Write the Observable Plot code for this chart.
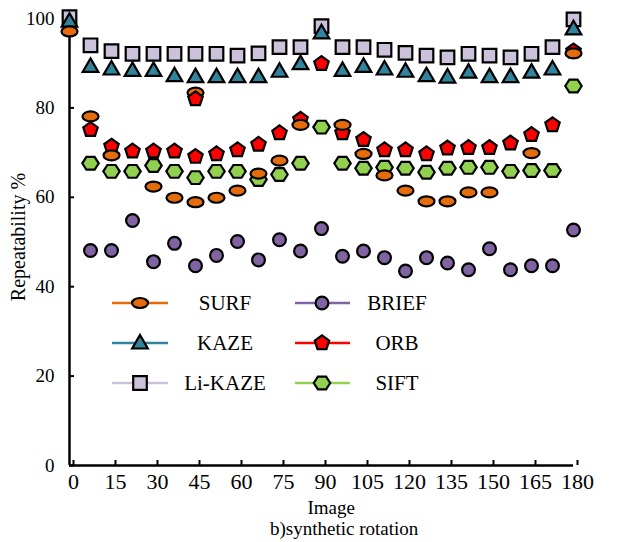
<!DOCTYPE html>
<html><head><meta charset="utf-8">
<script src="https://cdn.jsdelivr.net/npm/d3@7"></script>
<script src="https://cdn.jsdelivr.net/npm/@observablehq/plot@0.6"></script>
<style>
body{margin:0;background:#fff;}
#wrap{position:relative;width:617px;height:542px;font-family:"Liberation Serif","DejaVu Serif",serif;color:#000;}
.lbl{position:absolute;white-space:nowrap;line-height:1;}
</style></head><body><div id="wrap"></div>
<script>
// ---- data ----
const angles = [0, 7.5, 15, 22.5, 30, 37.5, 45, 52.5, 60, 67.5, 75, 82.5, 90, 97.5, 105, 112.5, 120, 127.5, 135, 142.5, 150, 157.5, 165, 172.5, 180];
const liKaze = [100.3, 94.0, 92.7, 92.1, 92.1, 92.1, 92.1, 92.1, 91.7, 92.2, 93.6, 93.6, 98.3, 93.6, 93.6, 93.0, 92.3, 91.7, 91.3, 92.1, 91.7, 91.3, 92.1, 93.6, 99.8];
const kaze   = [99.4, 89.3, 88.7, 88.4, 88.4, 87.2, 87.0, 87.0, 87.0, 87.0, 88.2, 89.9, 96.8, 88.4, 89.3, 88.7, 88.2, 87.2, 86.9, 88.0, 87.0, 87.0, 88.0, 88.7, 97.7];
const brief  = [null, 48.1, 48.1, 54.8, 45.6, 49.7, 44.7, 47.0, 50.1, 46.0, 50.5, 48.0, 53.0, 46.8, 48.0, 46.5, 43.5, 46.5, 45.3, 43.8, 48.5, 43.8, 44.7, 44.7, 52.7];
const sift   = [null, 67.6, 65.8, 65.8, 67.1, 65.8, 64.4, 65.8, 65.8, 64.0, 65.1, 67.6, 75.7, 67.6, 66.5, 66.7, 66.5, 65.6, 66.5, 66.7, 66.7, 65.8, 66.0, 66.0, 84.9];
const orb    = [null, 75.1, 71.4, 70.3, 70.3, 70.3, 69.1, 69.7, 70.6, 71.8, 74.4, 77.4, 89.9, 74.4, 72.9, 70.6, 70.6, 69.7, 71.0, 71.1, 71.1, 72.1, 74.0, 76.2, 92.7];
const surf   = [97.1, 78.1, 69.4, null, 62.4, 59.9, 58.9, 59.9, 61.5, 65.3, 68.2, 76.2, null, 76.2, 69.7, 64.9, 61.5, 59.1, 59.1, 61.1, 61.1, null, 69.9, null, 92.2];
const extraAngles = [45];
const surfExtra = [83.4];
const orbExtra = [82.0];
const xTicks = [0, 15, 30, 45, 60, 75, 90, 105, 120, 135, 150, 165, 180];
const yTicks = [0, 20, 40, 60, 80, 100];
const names = ["Li-KAZE", "KAZE", "BRIEF", "SIFT", "ORB", "SURF"];
const colors = ["#CCC1DA", "#31849B", "#8064A2", "#92D050", "#FF0000", "#E46C0A"];
const legendLeft = ["SURF", "KAZE", "Li-KAZE"];
const legendRight = ["BRIEF", "ORB", "SIFT"];

// ---- marker shapes ----
function polySym(pts) {
  return {draw(ctx) { ctx.moveTo(pts[0][0], pts[0][1]); for (let i = 1; i < pts.length; i++) ctx.lineTo(pts[i][0], pts[i][1]); ctx.closePath(); }};
}
function regular(n, r, start, sy = 1) {
  return d3.range(n).map(k => { const a = start + k * 2 * Math.PI / n; return [r * Math.cos(a), sy * r * Math.sin(a)]; });
}
const squareSym = polySym([[-6.8,-6.8],[6.8,-6.8],[6.8,6.8],[-6.8,6.8]]);
const triSym = polySym([[0,-8],[7.8,5.5],[-7.8,5.5]]);
const pentSym = polySym(regular(5, 7.6, -Math.PI / 2));
const hexSym = polySym(regular(6, 8.2, 0, 0.9));
const circleSym = {draw(ctx) { ctx.moveTo(6.4, 0); ctx.arc(0, 0, 6.4, 0, 2 * Math.PI); ctx.closePath(); }};
const ellipseSym = {draw(ctx) {
  const rx = 8, ry = 5, k = 0.5523;
  ctx.moveTo(rx, 0);
  ctx.bezierCurveTo(rx, ry * k, rx * k, ry, 0, ry);
  ctx.bezierCurveTo(-rx * k, ry, -rx, ry * k, -rx, 0);
  ctx.bezierCurveTo(-rx, -ry * k, -rx * k, -ry, 0, -ry);
  ctx.bezierCurveTo(rx * k, -ry, rx, -ry * k, rx, 0);
  ctx.closePath();
}};
const symbols = {"Li-KAZE": squareSym, "KAZE": triSym, "BRIEF": circleSym, "SIFT": hexSym, "ORB": pentSym, "SURF": ellipseSym};
const valuesBy = {"Li-KAZE": liKaze, "KAZE": kaze, "BRIEF": brief, "SIFT": sift, "ORB": orb, "SURF": surf};
const colorBy = Object.fromEntries(names.map((n, i) => [n, colors[i]]));

const rows = (vals, xs = angles) => xs.map((a, i) => ({angle: a, value: vals[i]}));
const dotMark = (name, data) => Plot.dot(data, {x: "angle", y: "value", r: 1, symbol: symbols[name], fill: colorBy[name], stroke: "black", strokeWidth: 2.2});

const serif = "'Liberation Serif','DejaVu Serif',serif";
const chart = Plot.plot({
  width: 617, height: 542,
  marginLeft: 69, marginRight: 44, marginTop: 18, marginBottom: 77,
  style: {fontFamily: serif, fontSize: "19px", color: "black", background: "white", overflow: "visible"},
  x: {domain: [0, 180]},
  y: {domain: [0, 100]},
  marks: [
    Plot.axisX({ticks: xTicks, tickSize: -5, tickPadding: 13, strokeWidth: 2, fontSize: 22, dx: 4, label: null}),
    Plot.axisY({ticks: yTicks, tickSize: -5, tickPadding: 20, strokeWidth: 2, fontSize: 19, label: null}),
    Plot.ruleX([0], {stroke: "black", strokeWidth: 2.5}),
    Plot.ruleY([0], {stroke: "black", strokeWidth: 2.5}),
    ...names.map(n => dotMark(n, rows(valuesBy[n]))),
    dotMark("SURF", rows(surfExtra, extraAngles)),
    dotMark("ORB", rows(orbExtra, extraAngles))
  ]
});
const wrap = document.getElementById("wrap");
wrap.appendChild(chart);

// ---- legend (inside the plot area) ----
const svg = d3.select(chart);
const lg = svg.append("g").attr("font-family", serif).attr("font-size", 21);
const rowY = [303, 343, 383];
function legendCol(list, x0, x1, xm, xt) {
  list.forEach((n, i) => {
    const y = rowY[i];
    lg.append("line").attr("x1", x0).attr("x2", x1).attr("y1", y).attr("y2", y).attr("stroke", colorBy[n]).attr("stroke-width", 2.5);
    lg.append("path").attr("d", d3.symbol(symbols[n])()).attr("transform", `translate(${xm},${y})`).attr("fill", colorBy[n]).attr("stroke", "black").attr("stroke-width", 2.2);
    lg.append("text").attr("x", xt).attr("y", y).attr("dy", "0.35em").attr("text-anchor", "middle").text(n);
  });
}
legendCol(legendLeft, 112, 168, 140, 225);
legendCol(legendRight, 295, 350, 322, 397);

// ---- axis titles ----
function addLabel(text, cx, cy, size, rotate) {
  const d = document.createElement("div");
  d.className = "lbl"; d.textContent = text; d.style.fontSize = size + "px";
  wrap.appendChild(d);
  const w = d.offsetWidth, h = d.offsetHeight;
  d.style.left = (cx - w / 2) + "px"; d.style.top = (cy - h / 2) + "px";
  if (rotate) d.style.transform = "rotate(-90deg)";
}
addLabel("Image", 331, 507, 19, false);
addLabel("b)synthetic rotation", 344, 528, 19, false);
addLabel("Repeatability %", 18, 237, 20, true);
</script>
</body></html>
